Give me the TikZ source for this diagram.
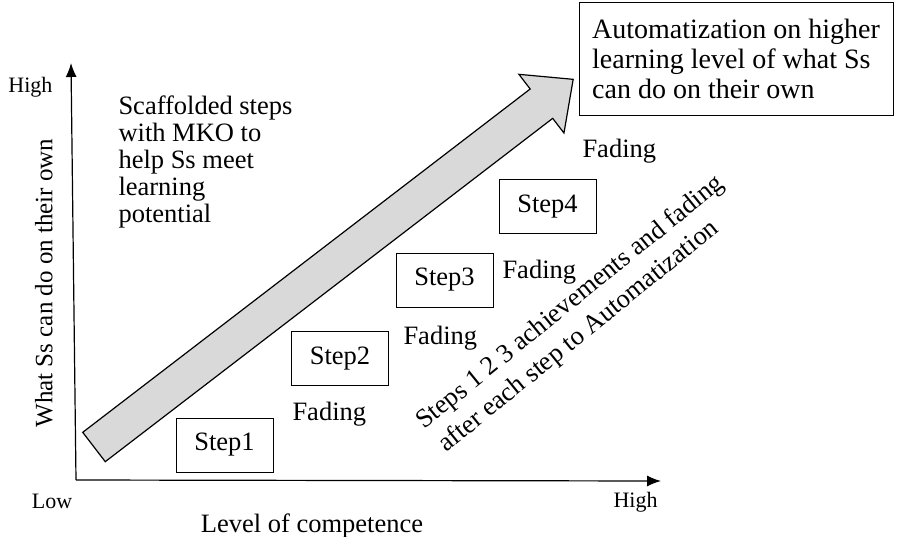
\documentclass[tikz,border=0pt]{standalone}
\usepackage{fontspec}
\setmainfont{Liberation Serif}
\usetikzlibrary{arrows.meta}
\tikzset{axis/.style = {-{Latex[length=14pt,width=11pt]}, line width=1.2pt}}
\newcommand{\bodysize}{\fontsize{26.5}{27}\selectfont}
\newcommand{\autosize}{\fontsize{28}{30}\selectfont}
\newcommand{\ylabsize}{\fontsize{25}{27}\selectfont}
\newcommand{\axisendsize}{\fontsize{22}{24}\selectfont}

\begin{document}
\begin{tikzpicture}[x=1pt, y=-1pt, line width=1pt,
  step node/.style={draw, minimum width=97pt, minimum height=54pt, inner sep=0pt, font=\bodysize},
  fade node/.style={anchor=base west, inner sep=0pt, font=\bodysize},
  axisend node/.style={anchor=base, inner sep=0pt, font=\axisendsize}]
\useasboundingbox (0,0) rectangle (897,536);

% axes
\coordinate (o) at (76,480);
\coordinate (ytip) at (71,63);
\coordinate (xtip) at (661,481);
\draw[axis] (o) -- (ytip);
\draw[axis] (o) -- (xtip);
\node[axisend node] (hiy) at (30.5,92) {High};
\node[axisend node] (low) at (52,508) {Low};
\node[axisend node] (hix) at (635.5,507) {High};
\node[rotate=90, font=\ylabsize] (ylab) at (44,283) {What Ss can do on their own};
\node[anchor=base, inner sep=0pt, font=\bodysize] (xlab) at (312,532) {Level of competence};

% big arrow
\begin{scope}[shift={(94,447)}, rotate=37.5]
  \draw[line width=1.2pt, fill=black!15] (0,-18.5) -- (564,-18.5) -- (564,-37) -- (604,0)
    -- (564,37) -- (564,18.5) -- (0,18.5) -- cycle;
\end{scope}

\node[anchor=north west, inner sep=0pt, align=left, font=\bodysize] (scaf) at (118,95)
  {Scaffolded steps\\with MKO to\\help Ss meet\\learning\\potential};
\node[draw, minimum width=314pt, minimum height=113pt, align=left, font=\autosize] (auto)
  at (736,58.5) {Automatization on higher\\learning level of what Ss\\can do on their own};

% steps
\node[step node] (s1) at (224.5,445) {Step1};
\node[step node] (s2) at (340,358.5) {Step2};
\node[step node] (s3) at (444.5,280) {Step3};
\node[step node] (s4) at (547.5,206.5) {Step4};
\node[fade node] (f1) at (292,420) {Fading};
\node[fade node] (f2) at (403,344) {Fading};
\node[fade node] (f3) at (502,278) {Fading};
\node[fade node] (f4) at (582,157) {Fading};

\node[anchor=base west, rotate=39, inner sep=0pt, font=\bodysize] (note1) at (424,430)
  {Steps 1 2 3 achievements and fading};
\node[anchor=base west, rotate=39, inner sep=0pt, font=\bodysize] (note2) at (446,453)
  {after each step to Automatization};
\end{tikzpicture}
\end{document}
